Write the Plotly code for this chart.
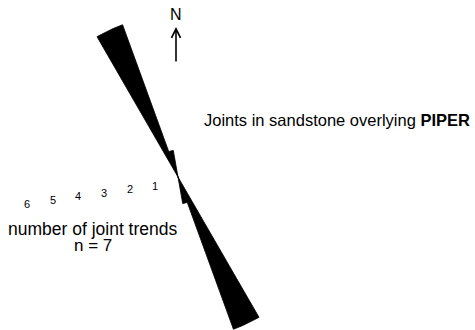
import numpy as np
import plotly.graph_objects as go

# Joint-trend rose: 10-degree azimuth bins and the number of joints in each
bin_start_deg = [330, 340]
bin_width_deg = 10
joint_counts = [6, 1]
scale_ticks = [1, 2, 3, 4, 5, 6]
title_plain = "Joints in sandstone overlying "
title_bold = "PIPER"

W, H = 475, 330
PX_PER_JOINT = 27          # radial scale: pixels per joint
CX, CY = 178, 177          # rose centre in pixels from the top-left
FONT = "Liberation Sans, Arial, Helvetica, sans-serif"


def petal(az0, az1, r):
    a = np.radians(np.linspace(az0, az1, 40))
    x = np.concatenate([[0.0], r * np.sin(a), [0.0]])
    y = np.concatenate([[0.0], r * np.cos(a), [0.0]])
    return x, y


fig = go.Figure()

# joints are bidirectional: each bin is drawn on both sides of the centre
for start, count in zip(bin_start_deg, joint_counts):
    for offset in (0, 180):
        a0 = (start + offset) % 360
        x, y = petal(a0, a0 + bin_width_deg, count)
        fig.add_trace(go.Scatter(
            x=x, y=y, mode="lines", fill="toself",
            fillcolor="black", line=dict(color="black", width=0.8),
            hoverinfo="skip", showlegend=False,
        ))

annotations = []

# radial scale labels, laid out along a WSW azimuth
scale_az = np.radians(262)
for k in scale_ticks:
    r = 0.96 * k
    annotations.append(dict(
        x=r * np.sin(scale_az), y=r * np.cos(scale_az),
        xref="x", yref="y", text=str(k), showarrow=False,
        xshift=3, yshift=-5,
        font=dict(family=FONT, size=11, color="black"),
    ))

# north arrow
annotations.append(dict(
    x=-2 / PX_PER_JOINT, y=(CY - 27) / PX_PER_JOINT, xref="x", yref="y",
    ax=0, ay=36, text="", showarrow=True,
    arrowhead=5, arrowsize=1.1, arrowwidth=1.6, arrowcolor="black",
))
annotations.append(dict(
    x=176 / W, y=1 - 14 / H, xref="paper", yref="paper",
    text="N", showarrow=False, xanchor="center", yanchor="middle",
    font=dict(family=FONT, size=16, color="black"),
))

# captions
annotations.append(dict(
    x=472 / W, y=1 - 120 / H, xref="paper", yref="paper",
    text=f"{title_plain}<b>{title_bold}</b>", showarrow=False,
    xanchor="right", yanchor="middle",
    font=dict(family=FONT, size=16.5, color="black"),
))
annotations.append(dict(
    x=92.5 / W, y=1 - 229 / H, xref="paper", yref="paper",
    text="number of joint trends", showarrow=False,
    xanchor="center", yanchor="middle",
    font=dict(family=FONT, size=17.5, color="black"),
))
annotations.append(dict(
    x=92.5 / W, y=1 - 245 / H, xref="paper", yref="paper",
    text=f"n = {sum(joint_counts)}", showarrow=False,
    xanchor="center", yanchor="middle",
    font=dict(family=FONT, size=17, color="black"),
))

fig.update_layout(
    width=W, height=H,
    margin=dict(l=0, r=0, t=0, b=0),
    paper_bgcolor="white", plot_bgcolor="white",
    showlegend=False,
    xaxis=dict(range=[-CX / PX_PER_JOINT, (W - CX) / PX_PER_JOINT],
               visible=False, fixedrange=True),
    yaxis=dict(range=[-(H - CY) / PX_PER_JOINT, CY / PX_PER_JOINT],
               visible=False, fixedrange=True),
    annotations=annotations,
)

fig.write_html("out.html", config={"displayModeBar": False})
